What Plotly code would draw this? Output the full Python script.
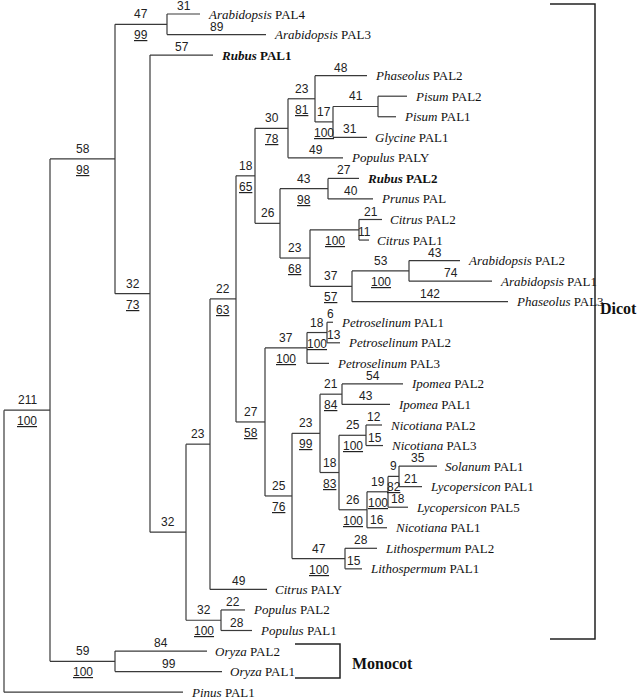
import plotly.graph_objects as go

# internal nodes of the PAL tree (parent, drawn branch length, branch length label, bootstrap)
node_names = ["root", "angio", "dicot", "arab34", "n4", "n5", "n6", "n7", "n8", "n9",
              "n10", "n11", "n12", "n13", "n14", "n15", "n16", "n17", "n18", "n19",
              "n20", "n21", "n22", "n23", "n24", "n25", "n26", "n27", "n28", "n29",
              "n30", "n31", "mono"]
node_parent = [None, "root", "angio", "dicot", "dicot", "n4", "n5", "n6", "n7", "n8",
               "n9", "n10", "n11", "n8", "n13", "n13", "n15", "n15", "n17", "n7",
               "n19", "n20", "n19", "n22", "n23", "n23", "n25", "n25", "n27", "n28",
               "n22", "n5", "angio"]
node_branch = [4, 46, 65, 52, 35, 36, 24, 26, 19, 33,
               27, 18, 45, 25, 48, 30, 49, 42, 57, 29,
               42, 20, 27, 28, 22, 19, 27, 28, 21, 11,
               53, 35, 65]
node_len = ["", "211", "58", "47", "32", "32", "23", "22", "18", "30",
            "23", "17", "41", "26", "43", "23", "", "37", "53", "27",
            "37", "18", "25", "23", "21", "18", "25", "26", "19", "9",
            "47", "32", "59"]
node_boot = ["", "100", "98", "99", "73", "", "", "63", "65", "78",
             "81", "100", "", "", "98", "68", "100", "57", "100", "58",
             "100", "100", "76", "99", "84", "83", "100", "100", "100", "82",
             "100", "100", "100"]

# leaves, top to bottom
leaf_genus = ["Arabidopsis", "Arabidopsis", "Rubus", "Phaseolus", "Pisum", "Pisum",
              "Glycine", "Populus", "Rubus", "Prunus", "Citrus", "Citrus",
              "Arabidopsis", "Arabidopsis", "Phaseolus", "Petroselinum", "Petroselinum",
              "Petroselinum", "Ipomea", "Ipomea", "Nicotiana", "Nicotiana", "Solanum",
              "Lycopersicon", "Lycopersicon", "Nicotiana", "Lithospermum", "Lithospermum",
              "Citrus", "Populus", "Populus", "Oryza", "Oryza", "Pinus"]
leaf_gene = ["PAL4", "PAL3", "PAL1", "PAL2", "PAL2", "PAL1", "PAL1", "PALY", "PAL2", "PAL",
             "PAL2", "PAL1", "PAL2", "PAL1", "PAL3", "PAL1", "PAL2", "PAL3", "PAL2", "PAL1",
             "PAL2", "PAL3", "PAL1", "PAL1", "PAL5", "PAL1", "PAL2", "PAL1", "PALY", "PAL2",
             "PAL1", "PAL2", "PAL1", "PAL1"]
leaf_parent = ["arab34", "arab34", "n4", "n10", "n12", "n12", "n11", "n9", "n14", "n14",
               "n16", "n16", "n18", "n18", "n17", "n21", "n21", "n20", "n24", "n24",
               "n26", "n26", "n29", "n29", "n28", "n27", "n30", "n30", "n6", "n31",
               "n31", "mono", "mono", "root"]
leaf_branch = [33, 99, 63, 52, 29, 18, 34, 55, 31, 45,
               23, 10, 51, 83, 156, 6, 13, 22, 61, 48,
               16, 17, 38, 23, 20, 20, 32, 17, 57, 24,
               31, 92, 107, 179]
leaf_len = ["31", "89", "57", "48", "", "", "31", "49", "27", "40",
            "21", "11", "43", "74", "142", "6", "13", "", "54", "43",
            "12", "15", "35", "21", "18", "16", "28", "15", "49", "22",
            "28", "84", "99", ""]
highlighted = ["Rubus"]

line_color = "#3a3a3a"
num_font = dict(family="Liberation Sans, Arial", size=12, color="#222")
name_font = dict(family="Liberation Serif, Times New Roman", size=13, color="#111")

# --- layout of the tree ---
top, step = 14, 20.55
parent_of = dict(zip(node_names, node_parent))
parent_of.update({f"leaf{i}": p for i, p in enumerate(leaf_parent)})
branch_of = dict(zip(node_names, node_branch))
branch_of.update({f"leaf{i}": b for i, b in enumerate(leaf_branch)})
children = {n: [] for n in node_names}
for k, p in parent_of.items():
    if p is not None:
        children[p].append(k)

xpos = {}


def get_x(n):
    if n not in xpos:
        p = parent_of[n]
        xpos[n] = branch_of[n] + (get_x(p) if p else 0)
    return xpos[n]


ypos = {f"leaf{i}": top + i * step for i in range(len(leaf_genus))}


def get_y(n):
    if n not in ypos:
        ys = [get_y(c) for c in children[n]]
        ypos[n] = (min(ys) + max(ys)) / 2
    return ypos[n]


for n in list(parent_of):
    get_x(n)
    get_y(n)

lx, ly = [], []
for n, p in parent_of.items():
    if p is None:
        continue
    lx += [xpos[p], xpos[n], None]
    ly += [ypos[n], ypos[n], None]
for n in node_names:
    ys = [ypos[c] for c in children[n]]
    lx += [xpos[n], xpos[n], None]
    ly += [min(ys), max(ys), None]

fig = go.Figure()
fig.add_trace(go.Scatter(x=lx, y=ly, mode="lines",
                         line=dict(color=line_color, width=1.2), hoverinfo="skip"))

annotations = []
labels_len = dict(zip(node_names, node_len))
labels_len.update({f"leaf{i}": t for i, t in enumerate(leaf_len)})
labels_boot = dict(zip(node_names, node_boot))
for n, p in parent_of.items():
    if p is None:
        continue
    mx = (xpos[p] + xpos[n]) / 2
    if labels_len.get(n):
        # terminal branch numbers sit a little closer to their line
        shift = 8 if n.startswith("leaf") else 10
        annotations.append(dict(x=mx, y=ypos[n], text=labels_len[n], yshift=shift,
                                showarrow=False, font=num_font))
    if labels_boot.get(n):
        annotations.append(dict(x=mx, y=ypos[n], text="<u>" + labels_boot[n] + "</u>",
                                yshift=-11, showarrow=False, font=num_font))

for i, (g, s) in enumerate(zip(leaf_genus, leaf_gene)):
    txt = f"<i>{g}</i> {s}"
    if g in highlighted:
        txt = f"<b>{txt}</b>"
    annotations.append(dict(x=xpos[f"leaf{i}"], y=ypos[f"leaf{i}"], text=txt,
                            xanchor="left", xshift=6, showarrow=False, font=name_font))

# group brackets
fig.add_trace(go.Scatter(x=[550, 595, 595, 550], y=[4, 4, 639, 639], mode="lines",
                         line=dict(color="#222", width=1.5), hoverinfo="skip"))
fig.add_trace(go.Scatter(x=[295, 340, 340, 295], y=[644, 644, 678, 678], mode="lines",
                         line=dict(color="#222", width=1.5), hoverinfo="skip"))
group_font = dict(family="Liberation Serif, Times New Roman", size=16, color="#111")
annotations.append(dict(x=598, y=308, text="<b>Dicot</b>", xanchor="left",
                        showarrow=False, font=group_font))
annotations.append(dict(x=350, y=663, text="<b>Monocot</b>", xanchor="left",
                        showarrow=False, font=group_font))

fig.update_layout(
    width=640, height=700,
    margin=dict(l=0, r=0, t=0, b=0),
    paper_bgcolor="white", plot_bgcolor="white",
    showlegend=False,
    annotations=annotations,
)
fig.update_xaxes(range=[0, 640], visible=False)
fig.update_yaxes(range=[700, 0], visible=False)
fig.write_html("out.html", config={"displayModeBar": False},
               post_script="document.body.style.margin = '0';")
